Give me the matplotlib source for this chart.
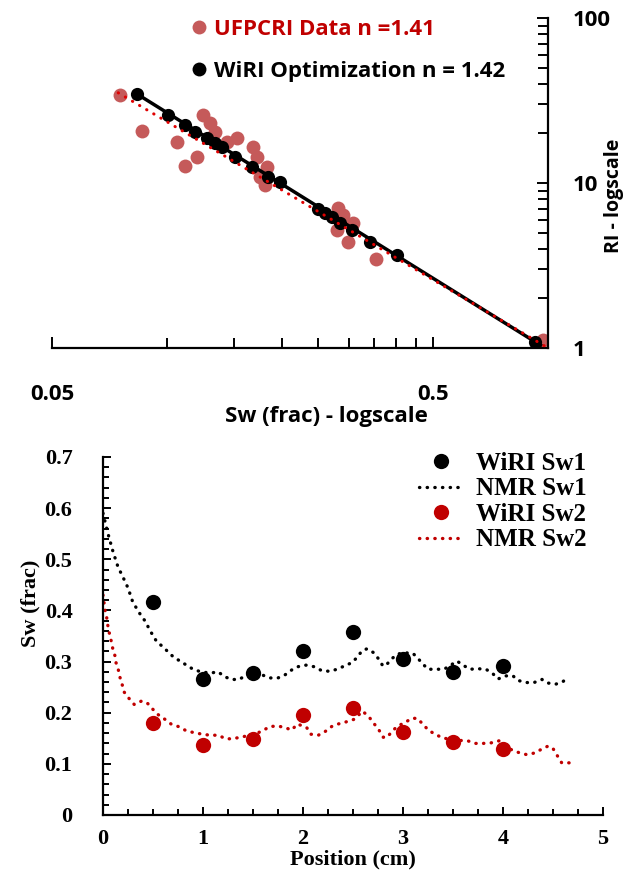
import matplotlib
matplotlib.use("Agg")
import matplotlib.pyplot as plt
from matplotlib.lines import Line2D
from matplotlib.ticker import FixedLocator, MultipleLocator, NullFormatter

# ---- top chart: RI vs Sw (log-log) ----
sw_ufpcri = [0.0754, 0.0861, 0.1065, 0.1117, 0.120, 0.1246, 0.130, 0.134, 0.144, 0.153, 0.1685,
             0.1726, 0.176, 0.181, 0.183, 0.280, 0.282, 0.290, 0.299, 0.308, 0.354, 0.97]
ri_ufpcri = [34.1, 20.7, 17.7, 12.7, 14.4, 25.8, 23.1, 20.4, 17.7, 18.7, 16.5,
             14.4, 10.9, 9.7, 12.5, 5.19, 7.05, 6.4, 4.39, 5.72, 3.46, 1.12]

sw_wiri = [0.0836, 0.1008, 0.1117, 0.1187, 0.1276, 0.134, 0.1397, 0.151, 0.1675, 0.1845,
           0.198, 0.25, 0.260, 0.272, 0.285, 0.306, 0.342, 0.402, 0.927]
ri_wiri = [34.6, 25.8, 22.5, 20.4, 18.7, 17.5, 16.5, 14.4, 12.5, 10.9,
           10.1, 6.96, 6.58, 6.22, 5.72, 5.19, 4.39, 3.66, 1.09]

# fitted lines (end points)
sw_fit_ufpcri = [0.0746, 1.0]
ri_fit_ufpcri = [35.2, 1.0]
sw_fit_wiri = [0.0836, 0.956]
ri_fit_wiri = [34.6, 1.04]

top_labels = ["UFPCRI Data n =1.41", "WiRI Optimization n = 1.42"]

# ---- bottom chart: Sw profiles ----
pos_wiri = [0.5, 1.0, 1.5, 2.0, 2.5, 3.0, 3.5, 4.0]
sw1_wiri = [0.417, 0.266, 0.278, 0.321, 0.358, 0.305, 0.280, 0.291]
sw2_wiri = [0.180, 0.137, 0.149, 0.196, 0.209, 0.162, 0.143, 0.129]

pos_nmr1 = [0.0, 0.05, 0.10, 0.15, 0.20, 0.25, 0.30, 0.34, 0.38, 0.43, 0.46, 0.50, 0.54, 0.60,
            0.65, 0.71, 0.78, 0.85, 0.91, 1.00, 1.09, 1.15, 1.22, 1.29, 1.36, 1.44, 1.51, 1.59,
            1.67, 1.75, 1.82, 1.89, 1.95, 2.03, 2.11, 2.19, 2.27, 2.34, 2.41, 2.49, 2.54, 2.59,
            2.64, 2.71, 2.76, 2.80, 2.84, 2.89, 2.95, 3.03, 3.10, 3.15, 3.20, 3.25, 3.33, 3.41,
            3.47, 3.54, 3.60, 3.67, 3.75, 3.83, 3.90, 3.95, 4.03, 4.10, 4.15, 4.24, 4.31, 4.39,
            4.45, 4.53, 4.60, 4.66]
sw_nmr1 = [0.590, 0.550, 0.515, 0.485, 0.465, 0.444, 0.415, 0.403, 0.390, 0.377, 0.364, 0.351,
           0.338, 0.329, 0.319, 0.308, 0.300, 0.291, 0.284, 0.279, 0.278, 0.280, 0.270, 0.265,
           0.265, 0.274, 0.275, 0.274, 0.268, 0.268, 0.274, 0.284, 0.290, 0.293, 0.290, 0.282,
           0.281, 0.285, 0.291, 0.298, 0.308, 0.321, 0.325, 0.317, 0.304, 0.291, 0.295, 0.306,
           0.315, 0.317, 0.316, 0.306, 0.295, 0.285, 0.285, 0.285, 0.292, 0.301, 0.293, 0.285,
           0.286, 0.285, 0.276, 0.266, 0.272, 0.272, 0.263, 0.259, 0.259, 0.265, 0.258, 0.256,
           0.261, 0.270]

pos_nmr2 = [0.0, 0.02, 0.037, 0.047, 0.063, 0.08, 0.097, 0.12, 0.13, 0.153, 0.17, 0.193, 0.213,
            0.26, 0.313, 0.387, 0.447, 0.497, 0.553, 0.62, 0.68, 0.753, 0.83, 0.91, 0.993, 1.07,
            1.153, 1.227, 1.297, 1.37, 1.45, 1.52, 1.597, 1.67, 1.747, 1.82, 1.887, 1.943, 2.037,
            2.077, 2.153, 2.22, 2.287, 2.353, 2.43, 2.51, 2.597, 2.663, 2.713, 2.76, 2.803, 2.843,
            2.887, 2.947, 3.013, 3.087, 3.143, 3.197, 3.253, 3.32, 3.393, 3.47, 3.55, 3.647,
            3.727, 3.803, 3.88, 3.96, 4.03, 4.097, 4.16, 4.237, 4.31, 4.38, 4.453, 4.503, 4.543,
            4.587, 4.663]
sw_nmr2 = [0.430, 0.401, 0.386, 0.372, 0.356, 0.342, 0.326, 0.311, 0.298, 0.284, 0.269, 0.254,
           0.240, 0.228, 0.216, 0.223, 0.218, 0.207, 0.196, 0.187, 0.178, 0.173, 0.165, 0.161,
           0.158, 0.156, 0.156, 0.149, 0.149, 0.152, 0.155, 0.158, 0.165, 0.173, 0.174, 0.171,
           0.166, 0.178, 0.171, 0.158, 0.156, 0.163, 0.173, 0.178, 0.182, 0.187, 0.203, 0.191,
           0.178, 0.166, 0.152, 0.152, 0.163, 0.174, 0.180, 0.189, 0.189, 0.178, 0.166, 0.158,
           0.151, 0.148, 0.146, 0.145, 0.140, 0.140, 0.141, 0.145, 0.135, 0.126, 0.122, 0.118,
           0.121, 0.128, 0.135, 0.129, 0.116, 0.102, 0.102]

bottom_labels = ["WiRI Sw1", "NMR Sw1", "WiRI Sw2", "NMR Sw2"]

sans = "Open Sans"
serif = "Liberation Serif"
dark_red = "#C00000"
pink_red = "#C55A5A"

W, H = 638, 877
fig = plt.figure(figsize=(W / 100, H / 100), dpi=100)

# ================= top chart =================
ax1 = fig.add_axes([52 / W, 1 - 348 / H, 496 / W, 330 / H])
ax1.set_xscale("log")
ax1.set_yscale("log")
ax1.plot(sw_ufpcri, ri_ufpcri, "o", color=pink_red, ms=10, mec="none", zorder=2)
ax1.plot(sw_fit_wiri, ri_fit_wiri, "-", color="black", lw=2.5, zorder=3)
ax1.plot(sw_wiri, ri_wiri, "o", color="black", ms=9.5, mec="none", zorder=4)
ax1.plot(sw_fit_ufpcri, ri_fit_ufpcri, color="#E00000", lw=2.2,
         linestyle=(0, (0.1, 2.6)), dash_capstyle="round", zorder=5)
ax1.set_xlim(0.05, 1)
ax1.set_ylim(1, 100)

for s in ["top", "left"]:
    ax1.spines[s].set_visible(False)
for s in ["bottom", "right"]:
    ax1.spines[s].set_linewidth(1.6)
ax1.yaxis.tick_right()
ax1.yaxis.set_label_position("right")

ax1.xaxis.set_major_locator(FixedLocator([0.05, 0.5]))
ax1.xaxis.set_minor_locator(FixedLocator([0.1, 0.15, 0.2, 0.25, 0.3, 0.35, 0.4, 0.45, 1.0]))
ax1.xaxis.set_minor_formatter(NullFormatter())
ax1.set_xticklabels(["0.05", "0.5"])
ax1.yaxis.set_minor_formatter(NullFormatter())
ax1.set_yticks([1, 10, 100])
ax1.set_yticklabels(["1", "10", "100"])
ax1.tick_params(axis="both", which="both", direction="in", width=1.4)
ax1.tick_params(axis="both", which="major", length=8)
ax1.tick_params(axis="both", which="minor", length=7)
ax1.tick_params(axis="x", which="major", pad=26)
ax1.tick_params(axis="y", which="major", pad=18)
for lab in ax1.get_xticklabels() + ax1.get_yticklabels():
    lab.set_fontfamily(sans)
    lab.set_fontweight("bold")
    lab.set_fontsize(16)

ax1.set_xlabel("Sw (frac) - logscale", fontfamily=sans, fontweight="bold", fontsize=16)
ax1.xaxis.set_label_coords((326 - 52) / 496, (348 - 416) / 330)
ax1.xaxis.label.set_va("center")
ax1.set_ylabel("RI - logscale", fontfamily=sans, fontweight="bold", fontsize=14)
ax1.yaxis.set_label_coords((614 - 52) / 496, (348 - 196) / 330)
ax1.yaxis.label.set_va("center")
ax1.yaxis.label.set_ha("center")

top_handles = [
    Line2D([], [], ls="none", marker="o", color=pink_red, ms=10, mec="none"),
    Line2D([], [], ls="none", marker="o", color="black", ms=10, mec="none"),
]
leg1 = fig.legend(top_handles, top_labels, loc="upper left",
                  bbox_to_anchor=(192 / W, 1 - 19 / H), frameon=False,
                  prop={"family": sans, "weight": "bold", "size": 16},
                  handlelength=0.6, handletextpad=0.4, labelspacing=0.95,
                  borderpad=0, borderaxespad=0)
leg1.get_texts()[0].set_color(dark_red)
leg1.get_texts()[1].set_color("black")

# ================= bottom chart =================
ax2 = fig.add_axes([103 / W, 1 - 815 / H, 500 / W, 358 / H])
ax2.plot(pos_nmr1, sw_nmr1, color="black", lw=2.4,
         linestyle=(0, (0.1, 2.2)), dash_capstyle="round", zorder=2)
ax2.plot(pos_nmr2, sw_nmr2, color=dark_red, lw=2.4,
         linestyle=(0, (0.1, 2.2)), dash_capstyle="round", zorder=2)
ax2.plot(pos_wiri, sw1_wiri, "o", color="black", ms=11, mec="none", zorder=3)
ax2.plot(pos_wiri, sw2_wiri, "o", color=dark_red, ms=11, mec="none", zorder=3)
ax2.set_xlim(0, 5)
ax2.set_ylim(0, 0.7)

for s in ["top", "right"]:
    ax2.spines[s].set_visible(False)
for s in ["bottom", "left"]:
    ax2.spines[s].set_linewidth(1.6)
ax2.xaxis.set_major_locator(MultipleLocator(1))
ax2.xaxis.set_minor_locator(MultipleLocator(0.25))
ax2.yaxis.set_major_locator(MultipleLocator(0.1))
ax2.yaxis.set_minor_locator(MultipleLocator(0.02))
ax2.tick_params(axis="both", which="both", direction="in", width=1.4)
ax2.tick_params(axis="both", which="major", length=6)
ax2.tick_params(axis="both", which="minor", length=4)
ax2.tick_params(axis="x", which="major", pad=10)
ax2.tick_params(axis="y", which="major", pad=22)
ax2.set_yticks([0, 0.1, 0.2, 0.3, 0.4, 0.5, 0.6, 0.7])
ax2.set_yticklabels(["0", "0.1", "0.2", "0.3", "0.4", "0.5", "0.6", "0.7"])
for lab in ax2.get_xticklabels() + ax2.get_yticklabels():
    lab.set_fontfamily(serif)
    lab.set_fontweight("bold")
    lab.set_fontsize(16)

ax2.set_xlabel("Position (cm)", fontfamily=serif, fontweight="bold", fontsize=16)
ax2.xaxis.set_label_coords(0.5, (815 - 859) / 358)
ax2.xaxis.label.set_va("center")
ax2.set_ylabel("Sw (frac)", fontfamily=serif, fontweight="bold", fontsize=16)
ax2.yaxis.set_label_coords((30 - 103) / 500, (815 - 603) / 358)
ax2.yaxis.label.set_va("center")
ax2.yaxis.label.set_ha("center")

bottom_handles = [
    Line2D([], [], ls="none", marker="o", color="black", ms=11, mec="none"),
    Line2D([], [], color="black", lw=2.4, linestyle=(0, (0.1, 2.2)), dash_capstyle="round"),
    Line2D([], [], ls="none", marker="o", color=dark_red, ms=11, mec="none"),
    Line2D([], [], color=dark_red, lw=2.4, linestyle=(0, (0.1, 2.2)), dash_capstyle="round"),
]
fig.legend(bottom_handles, bottom_labels, loc="upper right",
           bbox_to_anchor=(587 / W, 1 - 452 / H), frameon=False,
           prop={"family": serif, "weight": "bold", "size": 18},
           handlelength=1.75, handletextpad=0.55, labelspacing=0.1,
           borderpad=0, borderaxespad=0)

fig.savefig("out.png", dpi=100)
